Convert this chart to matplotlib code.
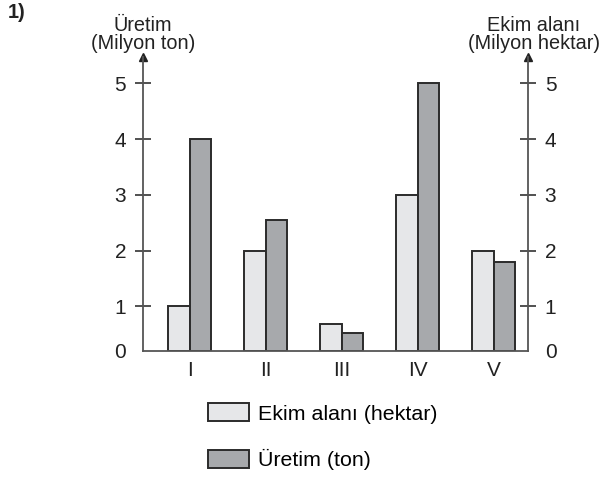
import numpy as np
import matplotlib.pyplot as plt

plt.rcParams['font.family'] = ['Liberation Sans', 'DejaVu Sans']

# data
bolgeler = ['I', 'II', 'III', 'IV', 'V']
ekim_alani = [1, 2, 0.6, 3, 2]          # milyon hektar
uretim = [4, 2.55, 0.4, 5, 1.8]         # milyon ton
y_ticks = [0, 1, 2, 3, 4, 5]

light = '#e6e7e9'
dark = '#a7a9ac'
edge = '#2b2b2b'
axcol = '#555555'
fs = 15

# the original drawing squeezes the first unit (0-1) a bit
def fwd(y):
    y = np.asarray(y, dtype=float)
    return np.where(y < 1, 0.8 * y, y - 0.2)

def inv(t):
    t = np.asarray(t, dtype=float)
    return np.where(t < 0.8, t / 0.8, t + 0.2)

fig = plt.figure(figsize=(6.06, 4.82), dpi=100)
ax = fig.add_axes([142.7/606, 1 - 351/482, (528-142.7)/606, (351-57)/482])
ax.set_yscale('function', functions=(fwd, inv))

x = np.arange(len(bolgeler))
w = 0.283
b1 = ax.bar(x - w/2, ekim_alani, w, color=light, edgecolor=edge, linewidth=1.4,
            label='Ekim alanı (hektar)')
b2 = ax.bar(x + w/2, uretim, w, color=dark, edgecolor=edge, linewidth=1.4,
            label='Üretim (ton)')

ax.set_xlim(-0.62, 4.45)
ax.set_ylim(0, 5.47)
ax.set_yticks(y_ticks)
ax.set_yticklabels([str(v) for v in y_ticks])
ax.set_xticks(x)
ax.set_xticklabels(bolgeler)
ax.tick_params(axis='x', length=0, pad=7, labelsize=fs, colors='#222222')
ax.tick_params(axis='y', direction='inout', length=12, width=1.2, color='#333333',
               pad=6, labelsize=fs, labelcolor='#222222', left=True, right=True,
               labelleft=True, labelright=True)
# 0 has no tick mark
ax.yaxis.get_major_ticks()[0].tick1line.set_visible(False)
ax.yaxis.get_major_ticks()[0].tick2line.set_visible(False)

ax.spines['top'].set_visible(False)
for s in ['left', 'right', 'bottom']:
    ax.spines[s].set_color(axcol)
    ax.spines[s].set_linewidth(1.3)

# arrow heads on the vertical axes
for xa in (0, 1):
    ax.plot(xa, 1, marker='^', markersize=6, color='#222222', transform=ax.transAxes,
            clip_on=False)

fig.text(143/606, 1 - 53/482, 'Üretim\n(Milyon ton)', ha='center', va='bottom',
         fontsize=14.3, linespacing=0.95, color='#222222')
fig.text(534/606, 1 - 53/482, 'Ekim alanı\n(Milyon hektar)', ha='center', va='bottom',
         fontsize=14.3, linespacing=0.95, color='#222222')
fig.text(8/606, 1 - 13/482, '1)', ha='left', va='center', fontsize=14.3,
         fontweight='bold', color='#222222')

fig.legend(handles=[b1, b2], loc='upper left', bbox_to_anchor=(208/606, 1 - 403/482),
           frameon=False, fontsize=15.4, handlelength=1.9, handleheight=0.95,
           handletextpad=0.45, labelspacing=1.2, borderpad=0, borderaxespad=0)

fig.savefig('out.png', dpi=100)
